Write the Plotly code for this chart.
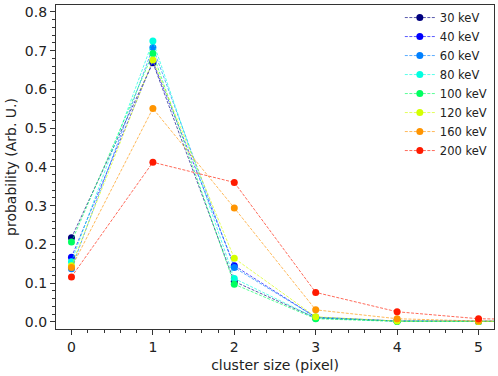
import plotly.graph_objects as go

cluster_size = [0, 1, 2, 3, 4, 5, 6]
energies = ["30 keV", "40 keV", "60 keV", "80 keV", "100 keV", "120 keV", "160 keV", "200 keV"]
colors = ["#00007f", "#0000ff", "#0080ff", "#00ffe0", "#00ff60", "#d4ff00", "#ff9400", "#ff1a00"]

p_30 = [0.217, 0.669, 0.104, 0.010, 0.002, 0.001, 0.001]
p_40 = [0.167, 0.672, 0.145, 0.012, 0.002, 0.001, 0.001]
p_60 = [0.137, 0.708, 0.140, 0.012, 0.002, 0.001, 0.001]
p_80 = [0.155, 0.725, 0.112, 0.010, 0.002, 0.001, 0.001]
p_100 = [0.206, 0.693, 0.097, 0.008, 0.001, 0.001, 0.001]
p_120 = [0.145, 0.676, 0.164, 0.013, 0.002, 0.001, 0.001]
p_160 = [0.140, 0.551, 0.294, 0.031, 0.008, 0.002, 0.002]
p_200 = [0.116, 0.412, 0.360, 0.076, 0.026, 0.008, 0.005]

series = [p_30, p_40, p_60, p_80, p_100, p_120, p_160, p_200]

def rgba(h, a):
    h = h.lstrip("#")
    r, g, b = int(h[0:2], 16), int(h[2:4], 16), int(h[4:6], 16)
    return f"rgba({r},{g},{b},{a})"

fig = go.Figure()
for name, col, vals in zip(energies, colors, series):
    fig.add_trace(go.Scatter(
        x=cluster_size, y=vals, name=name, mode="lines+markers",
        line=dict(color=rgba(col, 0.65), width=1, dash="3px,1.5px"),
        marker=dict(color=col, size=7),
    ))

axis_common = dict(
    showline=True, linecolor="#333333", linewidth=1.2, mirror=True,
    ticks="outside", ticklen=5, tickcolor="#333333", showgrid=False, zeroline=False,
    tickfont=dict(family="DejaVu Sans", size=14, color="#222222"),
)
fig.update_layout(
    width=498, height=376,
    margin=dict(l=56, r=4, t=3, b=47),
    paper_bgcolor="white", plot_bgcolor="white",
    font=dict(family="DejaVu Sans", color="#222222"),
    xaxis=dict(range=[-0.19, 5.19], tickvals=[0, 1, 2, 3, 4, 5],
               minor=dict(ticks="outside", ticklen=3, dtick=0.2, tickcolor="#333333"),
               title=dict(text="cluster size (pixel)", font=dict(size=14), standoff=6),
               automargin=False, **axis_common),
    yaxis=dict(range=[-0.0185, 0.818], tickvals=[0, 0.1, 0.2, 0.3, 0.4, 0.5, 0.6, 0.7, 0.8],
               tickformat=".1f",
               minor=dict(ticks="outside", ticklen=3, dtick=0.02, tickcolor="#333333"),
               title=dict(text="probability (Arb. U.)", font=dict(size=14), standoff=4),
               automargin=False, **axis_common),
    legend=dict(x=0.785, y=1.006, xanchor="left", yanchor="top",
                font=dict(size=11.5, family="DejaVu Sans"), bgcolor="rgba(255,255,255,0)",
                itemwidth=30, tracegroupgap=0),
    showlegend=True,
)
fig.write_html("out.html", config={"displayModeBar": False})

with open("out.html", "r", encoding="utf-8") as f:
    html = f.read()
html = html.replace("<head>", "<head><style>html,body{margin:0;padding:0;overflow:hidden;}</style>", 1)
with open("out.html", "w", encoding="utf-8") as f:
    f.write(html)
